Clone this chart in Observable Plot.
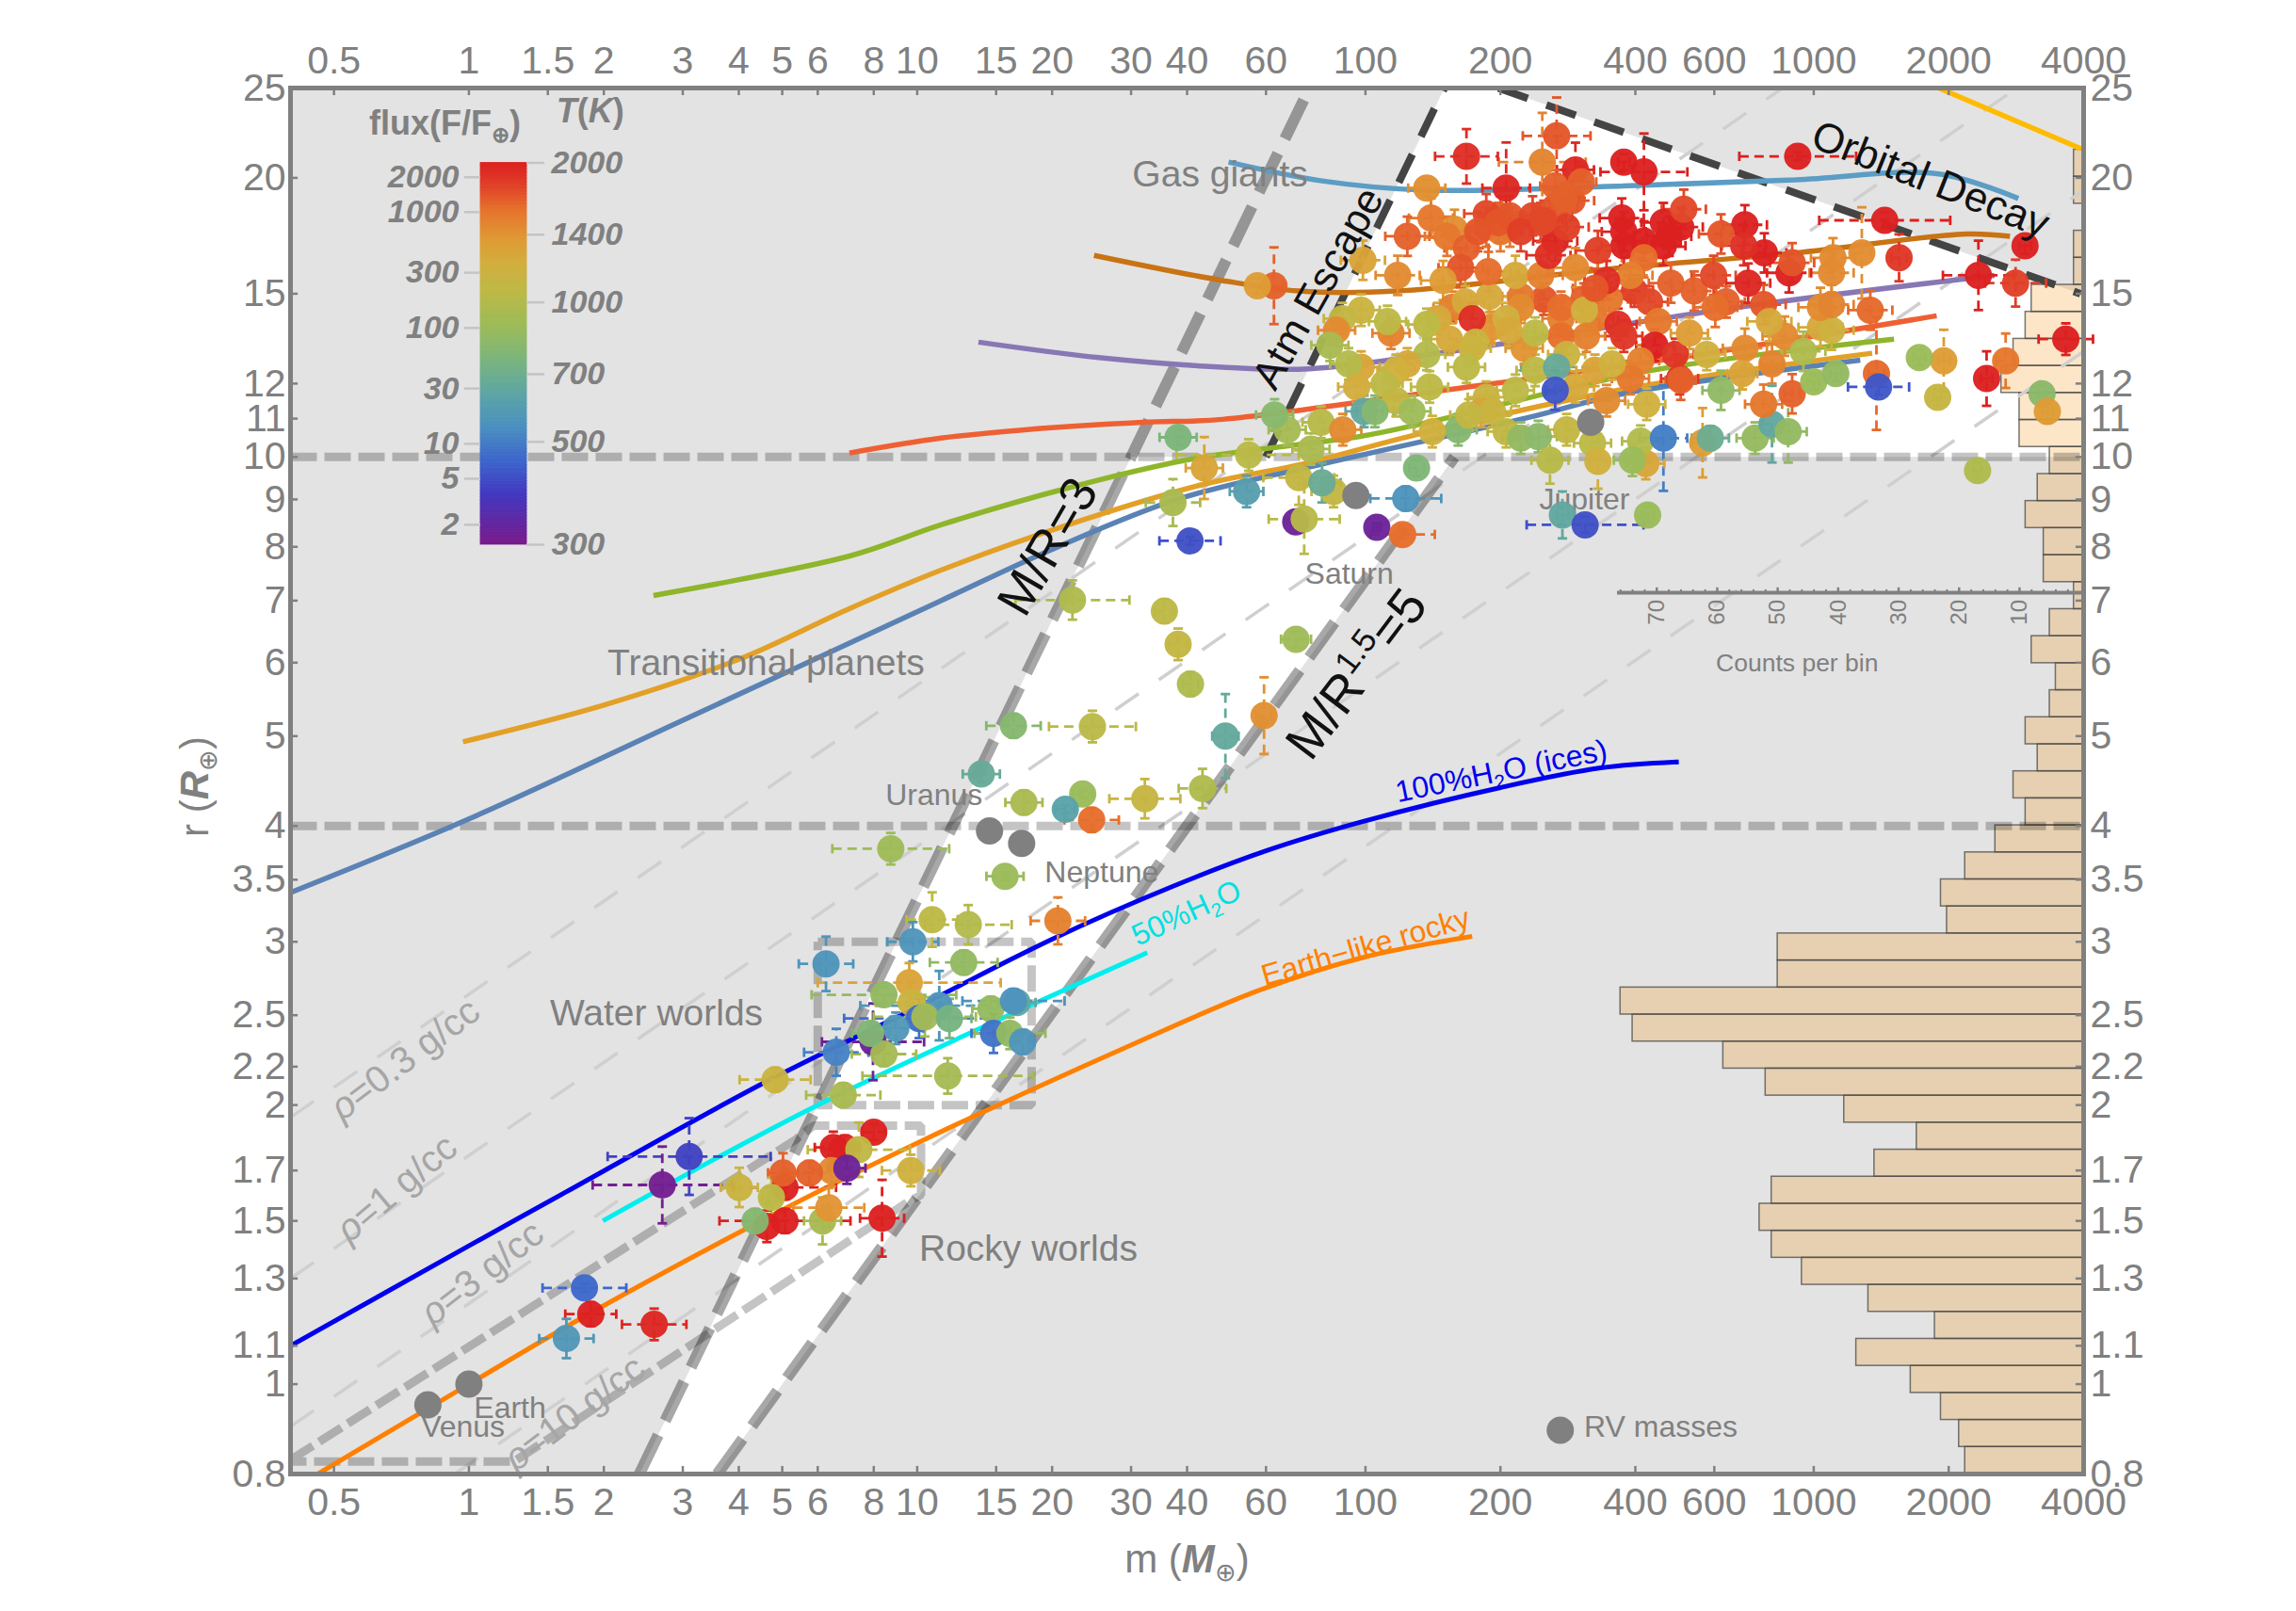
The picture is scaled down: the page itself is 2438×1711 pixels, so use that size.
<!DOCTYPE html>
<html><head><meta charset="utf-8">
<script src="https://cdn.jsdelivr.net/npm/d3@7"></script>
<script src="https://cdn.jsdelivr.net/npm/@observablehq/plot@0.6"></script>
<style>html,body{margin:0;padding:0;background:#fff}#wrap{position:relative;width:2438px;height:1711px;overflow:hidden}#wrap svg{position:absolute;left:0;top:0}</style>
</head><body><div id="wrap"></div>
<script>
const massTicks=[0.5,1,1.5,2,3,4,5,6,8,10,15,20,30,40,60,100,200,400,600,1000,2000,4000];
const radiusTicks=[0.8,1,1.1,1.3,1.5,1.7,2,2.2,2.5,3,3.5,4,5,6,7,8,9,10,11,12,15,20,25];
const tempTicks=[300,500,700,1000,1400,2000];
const fluxTicks=[2,5,10,30,100,300,1000,2000];
const countTicks=[10,20,30,40,50,60,70];
const countMinor=[2,4,6,8,12,14,16,18,22,24,26,28,32,34,36,38,42,44,46,48,52,54,56,58,62,64,66,68,72,74,76];
const countsPerBin=[19,20,23,28,37,24,35,46,51,53,51,34,27,39,52,59,74,76,50,50,22,23,19,14,9,11,7,9,5,4,8,5,1,6,6,9,7,5,10,10,13,11,9,8,1,1,0,1,1];

const rockAndWater=[
[6.26,2.84,560,1.15,1.07],[9.78,3.0,560,1.14,1.05],[10.8,3.17,1050,1.14,1.07],[13,3.13,1000,1.25,1.05],[20.6,3.16,1500,1.15,1.06],
[12.7,2.85,850,1.19,1.03],[9.6,2.71,1300,1.6,1.05],[8.43,2.63,850,1.45,1.02],[9.7,2.58,1150,1.2,1.05],[11.2,2.56,560,1.5,1.09],
[14.6,2.54,860,1.1,1.03],[16.7,2.58,650,1.1,1.02],[16.4,2.59,550,1.3,1.03],[10.1,2.48,470,1.47,1.05],[10.4,2.49,920,1.3,1.05],[11.8,2.48,740,1.12,1.05],
[8.96,2.42,570,1.15,1.04],[7.97,2.34,320,1.3,1.1],[8.43,2.27,930,1.18,1.03],[7.87,2.39,780,1.1,1.03],[14.8,2.39,480,1.12,1.05],[16.1,2.39,850,1.2,1.04],
[17.2,2.34,560,1.06,1.03],[6.6,2.28,510,1.18,1.06],[4.82,2.13,1150,1.2,1.03],[6.84,2.05,950,1.21,1.03],[11.7,2.15,930,1.55,1.045],
[8,1.87,1990,1.06,1.02],[6.9,1.8,1950,1.08,1.03],[6.5,1.8,2000,1.1,1.04],[7.41,1.79,1080,1.3,1.07],[3.1,1.76,400,1.52,1.1],[2.7,1.64,310,1.43,1.1],
[6.44,1.7,1450,1.1,1.04],[6.97,1.71,320,1.1,1.04],[5.07,1.63,2000,1.3,1.03],[5.02,1.69,1650,1.08,1.05],[5.75,1.69,1650,1.12,1.03],[4.01,1.63,1150,1.1,1.05],
[4.73,1.59,1050,1.05,1.05],[9.68,1.7,1200,1.16,1.04],[4.62,1.48,2000,1.05,1.04],[5.07,1.5,2000,1.4,1.03],[4.35,1.5,800,1.05,1.03],[6.15,1.5,950,1.1,1.06],
[6.35,1.55,1400,1.2,1.05],[8.35,1.51,2000,1.12,1.1],[1.81,1.27,460,1.24,1.01],[1.65,1.12,570,1.15,1.05],[1.87,1.19,2000,1.14,1.03],[2.59,1.16,1950,1.18,1.04]];

const subSaturns=[
[38.2,10.5,760,1.1,1.02],[43.7,9.73,1300,1.1,1.08],[54.9,10.05,1040,1.45,1.04],[37.2,8.93,950,1.15,1.06],[54.3,9.18,600,1.09,1.04],[40.6,8.12,420,1.17,1.01],
[84.9,9.18,1100,1.12,1.04],[71,9.5,1100,1.2,1.07],[80,9.38,680,1.1,1.05],[69.9,8.51,320,1.02,1.01],[73,8.57,1020,1.2,1.09],[106,8.4,320,1.02,1.01],[121,8.25,1600,1.18,1.01],
[123,9.02,550,1.2,1.03],[130,9.73,770,1.04,1.02],[22.2,7.01,980,1.34,1.05],[35.6,6.82,1050,1.05,1.03],[38.2,6.28,1100,1.05,1.04],[40.7,5.69,980,1.04,1.03],
[70,6.36,900,1.08,1.02],[59.4,5.26,1420,1.04,1.1],[48.7,5,660,1.07,1.11],[16.4,5.13,800,1.15,1.03],[24.6,5.12,1040,1.25,1.04],[13.9,4.55,670,1.1,1.02],
[17.3,4.24,960,1.1,1.03],[23.4,4.33,880,1.05,1.01],[21.4,4.17,620,1.05,1.01],[24.5,4.06,1600,1.15,1.03],[32.2,4.28,1120,1.2,1.05],[43.3,4.39,980,1.13,1.05],[15.7,3.53,880,1.1,1.01],[8.73,3.78,900,1.35,1.04]];

const hotGiants=[
[265,11.8,430,1.05,1.05],[168,21.1,1900,1.175,1.07],[267,22.2,1700,1.19,1.1],[248,20.8,1480,1.25,1.13],[294,20.4,1950,1.1,1.07],[377,20.8,2000,1.03,1.02],[418,20.3,2000,1.25,1.1],[921,21.1,2000,1.35,1.01],
[137,19.5,1420,1.1,1.02],[206,19.5,1950,1.13,1.12],[265,19.6,1650,1.08,1.04],[303,19.8,1650,1.08,1.04],[277,19,1650,1.08,1.04],[1440,18,2000,1.4,1.02],
[2960,16.9,2000,1.03,1.02],[2330,15.7,2000,1.2,1.09],[2820,15.4,1800,1.17,1.06],[1550,16.4,1850,1.04,1.06],[1280,16.6,1430,1.05,1.12],[3650,13.4,2000,1.15,1.04],
[2680,12.7,1550,1.05,1.07],[2430,12.15,2000,1.03,1.07],[1950,12.7,1350,1.03,1.08],[1720,12.8,880,1.03,1.02],[1890,11.6,1120,1.02,1.02],[3230,11.7,820,1.02,1.02],[3320,11.2,1350,1.03,1.03],
[1380,12.3,1620,1.04,1.15],[1395,11.9,430,1.17,1.02],[2320,9.67,980,1.02,1.02],[426,8.66,880,1.03,1.02],[275,8.66,650,1.03,1.06],[309,8.45,420,1.35,1.02],
[565,10.36,1350,1.06,1.09],[462,10.48,500,1.13,1.14],[588,10.48,690,1.1,1.03],[740,10.48,860,1.1,1.04],[807,10.85,650,1.06,1.1],[877,10.65,850,1.1,1.08],[773,11.4,1550,1.1,1.05],
[895,11.7,1650,1.04,1.05],[1000,12.05,880,1.03,1.02],[1120,12.3,850,1.03,1.02],[693,12.3,1300,1.08,1.04],[621,11.8,840,1.1,1.05],[505,12.1,1650,1.08,1.05],[807,12.6,1480,1.06,1.05]];

const warmGiants=[
[702,13.1,1450],[861,13.5,1450],[948,13,980],[1035,13.8,1250],[1096,13.7,1180],[1337,14.4,1620],[1035,14.5,1450],[1096,14.6,1480],[773,14.6,1700],[796,14,1250],
[603,14.5,1600],[541,15.1,1650],[598,15.7,1750],[714,15.4,1950],[881,15.8,2000],[895,16.2,1700],[776,16.6,2000],[1096,15.8,1450],[1104,16.4,1450],[702,17.8,2000],
[621,17.4,1700],[505,17.7,2000],[462,17.9,2000],[513,18.5,1750],[373,18.1,2000],[377,17.5,2000],[418,17.1,2000],[476,17.3,2000],[377,16.9,2000],[462,16.9,2000],[698,16.9,1900],
[330,16.7,1800],[265,17.1,1950],[246,17.9,1750],[265,18.6,1700],[289,18.9,1700],[186,17.7,1600],[200,18.2,1650],[210,17.7,1550],[200,17.5,1550],[140,18.1,1550],[124,17.3,1650],
[158,17.6,1420],[152,17.3,1550],[168,16.8,1650],[163,16,1700],[188,15.85,1600],[216,15.7,1250],[246,15.7,1500],[256,16.5,1900],[294,16,1450],[418,16.4,1600],[390,15.7,1500],
[345,15.5,1900],[325,15.2,1700],[480,15.4,1650],[118,15.7,1450],[98.7,16.3,1300],[149,15.5,1350],[62.5,15.3,1650,1.05,1.1],[57.4,15.3,1350,1.05,1.02],
[186,18.3,1750],[210,18.2,1700],[236,18.2,1750],[198,17.9,1700],[222,17.5,1800],[178,17.5,1700],[281,17.7,1800],[250,18,1750]];

const coolerGiants=[
[250,14.8,1700],[222,14.9,1550],[307,14.8,1650],[398,15.1,1800],[430,14.7,1750],[638,14.7,1650],[325,14.1,1550],[273,14.1,1500],[97.8,14.4,1150],[156,14.5,1500],[189,14.9,1250],[167,14.7,1250],[222,14.5,1450],
[273,14.5,1600],[308,14.4,1200],[350,14.8,1550],[450,14,1550],[366,13.9,1900],[311,13.5,1500],[191,13.8,1400],[173,14.1,1900],[145,14.1,1250],[206,14.1,1200],
[114,13.6,1500],[112,14,1050],[137,13.9,1050],[88.8,14.1,1100],[86.2,13.7,1450],[83.3,13.2,950],[154,13.4,1250],[173,13.1,1200],[226,13.1,1400],[273,13.5,1600],[377,13.5,1850],
[442,13.2,2000],[491,12.9,1850],[411,12.7,1500],[528,13.6,1350],[577,12.9,1200],[502,12.15,1850],[390,12.15,1550],[281,12.9,1150],[239,13.6,1050],[209,13.7,1250],[176,13.3,1150],
[345,11.5,1450],[424,11.4,1200],[294,11.9,1250],[325,12.4,1300],[355,12.6,1200],[239,12.4,1050],[267,12.5,670,1.2,1.02],[186,11.6,1150],[181,11.2,1300],[216,11.8,1050],
[168,12.5,1050],[137,12.9,1000],[139,11.9,1050],[124,12.6,1250],[117,12.4,1200],[97.8,12.5,1280],[91.7,12.6,1000],[95.6,11.9,1220],[110,12,1050],[117,11.5,1100],
[99.3,11.2,650],[105,11.2,800],[127,11.2,900],[161,10.7,800],[141,10.65,1200],[192,11.2,1150],[170,11.1,1100],[206,10.65,1080],[222,10.48,850],[243,10.52,820],[281,10.7,1100],
[258,9.92,1020,1.1,1.06],[321,10.35,1050],[330,9.89,1200,1.05,1.07],[422,9.84,1280],[411,10.4,1000],[394,9.92,880],[79.6,10.9,1020],[66.9,10.7,930],[62.7,11.1,810],[89,10.7,1450],[75.6,10.2,960]];

const solarSystem=[[1,1],[0.81,0.95],[95.2,9.09],[318,10.9],[14.5,3.95],[17.1,3.83],[272,0.892]];

// mass–radius curves, [mass, radius]
const waterCurve=[[0.4,1.1],[1,1.41],[1.64,1.61],[4.52,2.11],[10,2.55],[20,3.02],[37,3.44],[60,3.76],[98,4.04],[200,4.4],[335,4.62],[500,4.69]];
const halfWaterCurve=[[1.99,1.5],[6,2.0],[32.6,2.92]];
const rockyCurve=[[0.46,0.8],[1,1],[1.82,1.185],[4.98,1.54],[10,1.82],[29.9,2.32],[58,2.66],[100,2.89],[173,3.04]];
const gasSteel=[[0.4,3.39],[1,4.07],[3,5.2],[11.3,7],[20,7.95],[38,9],[79,9.81],[231,11.03],[375,11.7],[1270,12.72]];
const gasAmber=[[0.97,4.93],[2,5.4],[4,6.05],[7,6.85],[11.3,7.55],[21.7,8.45],[43,9.33],[72.7,9.83],[133,10.6],[375,11.83],[1350,12.94]];
const gasOlive=[[2.58,7.09],[7.07,7.82],[11.3,8.45],[21.7,9.26],[41,9.95],[98,10.53],[138,10.9],[435,12.4],[1510,13.4]];
const gasCoral=[[7.06,10.1],[11.3,10.48],[17.4,10.7],[31.9,10.9],[48,10.98],[155,11.83],[500,12.8],[1880,14.2]];
const gasViolet=[[13.7,13.3],[25.4,12.8],[48,12.5],[75,12.45],[155,13],[675,14.5],[2530,15.7]];
const gasBrown=[[24.8,16.5],[48,15.5],[71,15.1],[117,15.1],[375,16],[910,16.6],[2190,17.4],[2740,17.3]];
const gasSky=[[49.5,20.8],[80,19.85],[135,19.4],[375,19.6],[910,19.9],[1900,20.2],[2860,19]];
const gasGold=[[1900,25],[3950,21.5]];

// guide lines
const rho03=[[0.4,1.94],[852,25]], rho1=[[0.4,1.3],[2841,25]], rho3=[[0.4,0.9],[4000,19.4]], rho10=[[0.93,0.8],[4000,13]];
const mOverR3=[[2.4,0.8],[75,25]], mOverR15=[[3.58,0.8],[158,10]], atmEscape=[[60,10],[150,25]], orbitalDecay=[[198,25],[3933,15]];
const waterBox=[[6,3],[18,3],[18,2],[6,2],[6,3]];
const rockyBox=[[0.4,0.8286],[5.35,1.835],[5.87,1.9],[10.2,1.9],[10.2,1.6],[9.5,1.57],[1.26,0.825],[0.4,0.825]];
const horizon10=[[0.4,10],[4000,10]], horizon4=[[0.4,4],[4000,4]];
const whiteZone=[[2.4,0.8],[30,10],[60,10],[150,25],[198,25],[3933,15],[4000,15],[4000,10],[158,10],[3.58,0.8]];

const grayLabels=[["Gas giants",47.4,20,39],["Transitional planets",4.6,5.95,39],["Water worlds",2.62,2.49,39],["Rocky worlds",17.7,1.39,39],
["Uranus",10.9,4.29,32],["Neptune",25.8,3.54,32],["Saturn",92,7.43,32],["Jupiter",308,8.92,32],["Earth",1.235,0.935,32],["Venus",0.97,0.892,32],["RV masses",456,0.892,32],["Counts per bin",918,5.95,26.5]];
const rhoLabels=[["*ρ*=0.3 g/cc",0.72,2.24,-37],["*ρ*=1 g/cc",0.69,1.626,-40],["*ρ*=3 g/cc",1.07,1.317,-38],["*ρ*=10 g/cc",1.72,0.93,-37]];
const blackLabels=[["M/R=3",19.6,8,-60,53],["M/R^{1.5}=5",95.7,5.83,-53,54],["Atm Escape",78.5,15.2,-60.6,44],["Orbital Decay",1821,19.9,21.6,44]];

const rainbow=d3.scaleLinear()
 .domain([0,.132,.22,.308,.396,.485,.573,.66,.73,.8,.88,.94,1])
 .range(["#7b1a8a","#4238c0","#3d66cc","#4a90c0","#5ea5a5","#7ab57c","#9cbb58","#bcb946","#d0b03e","#e09a34","#e6702c","#e04028","#dc2020"]);
const colorScale={type:"log",domain:[300,2000],interpolate:t=>rainbow(t)};

const gray="#808080", font="'Liberation Sans',Arial,sans-serif";
const countToMass=c=>4000*Math.pow(10,-(c+0.6)*6.42/476);
const binEdge=k=>0.8*Math.pow(10,k*0.02915);
const rows=(list,fm,fr)=>list.map(d=>({m:d[0],r:d[1],T:d[2],fm:d[3]??fm,fr:d[4]??fr}));
const planets=[...rows(coolerGiants,1.1,1.04),...rows(warmGiants,1.12,1.05),...rows(hotGiants),...rows(subSaturns),...rows(rockAndWater)];
const vbar={draw(c,s){const h=Math.sqrt(s/Math.PI);c.moveTo(0,-h);c.lineTo(0,h);}};
const hbar={draw(c,s){const h=Math.sqrt(s/Math.PI);c.moveTo(-h,0);c.lineTo(h,0);}};
const butt={strokeLinecap:"butt",strokeLinejoin:"miter"};
const line=(data,o)=>Plot.line(data,{x:d=>d[0],y:d=>d[1],clip:true,...o});
const curve=(data,stroke,w=5.5)=>line(data,{stroke,strokeWidth:w,curve:"catmull-rom",...butt});
const thinRho={stroke:"#cfcfcf",strokeWidth:3.5,strokeDasharray:"30,26",...butt};
const pale={stroke:"#000",strokeOpacity:.23,strokeWidth:9,strokeDasharray:"28,8",...butt};
const thick={stroke:"#000",strokeOpacity:.34,strokeWidth:12,strokeDasharray:"46,17",...butt};
const dark={stroke:"#444",strokeWidth:8,strokeDasharray:"33,21",...butt};
const labels=(list,o)=>Plot.text(list,{text:d=>d[0],x:d=>d[1],y:d=>d[2],...o});
const histRows=countsPerBin.map((c,k)=>({c,k})).filter(d=>d.c>0);
const tickText={text:d=>String(d),fontSize:41,fill:gray};
const errStyle={stroke:d=>d.T,strokeWidth:2.8,...butt};

const main=Plot.plot({
 width:2438,height:1711,marginLeft:308,marginRight:226,marginTop:93,marginBottom:146,
 style:{fontFamily:font,background:"#fff",overflow:"visible"},
 x:{type:"log",domain:[0.4,4000],axis:null},
 y:{type:"log",domain:[0.8,25],axis:null},
 color:colorScale,
 marks:[
  Plot.frame({fill:"#e3e3e3"}),
  Plot.line(whiteZone,{x:d=>d[0],y:d=>d[1],fill:"#fff",stroke:"none"}),
  Plot.rect(histRows,{x1:4000,x2:d=>countToMass(d.c),y1:d=>binEdge(d.k),y2:d=>binEdge(d.k+1),fill:"#f08c00",fillOpacity:.22,stroke:"#4a4a4a",strokeOpacity:.75,strokeWidth:1.5}),
  line(rho03,thinRho),line(rho1,thinRho),line(rho3,thinRho),line(rho10,thinRho),
  line(horizon10,pale),line(horizon4,pale),line(waterBox,pale),line(rockyBox,pale),
  line(mOverR3,thick),line(mOverR15,thick),line(atmEscape,dark),line(orbitalDecay,dark),
  curve(gasGold,"#ffbb00"),curve(gasSky,"#5b9dc5"),curve(gasBrown,"#c87314"),curve(gasViolet,"#8877b5"),curve(gasCoral,"#ee6033"),curve(gasOlive,"#8fb52a"),curve(gasAmber,"#e3a027"),curve(gasSteel,"#5b82b4"),
  curve(waterCurve,"#0000ee",5),curve(rockyCurve,"#ff8000",5),curve(halfWaterCurve,"#00eeee",5),
  Plot.ruleY([7.14],{x1:4000,x2:countToMass(76.5),stroke:gray,strokeWidth:4}),
  Plot.ruleX(countTicks,{x:countToMass,y1:7.14,y2:7.14*1.012,stroke:gray,strokeWidth:2.5}),
  Plot.ruleX(countMinor,{x:countToMass,y1:7.14,y2:7.14*1.007,stroke:gray,strokeWidth:2}),
  Plot.text(countTicks,{x:countToMass,y:6.8,text:d=>String(d),rotate:-90,fontSize:24,fill:gray}),
  labels(grayLabels,{fill:gray,fontSize:d=>d[3],dy:-3}),
  labels(rhoLabels,{fill:"#a6a6a6",fontSize:40,rotate:d=>d[3]}),
  Plot.link(planets,{x1:d=>d.m/d.fm,x2:d=>d.m*d.fm,y1:d=>d.r,y2:d=>d.r,strokeDasharray:"10,6",...errStyle}),
  Plot.link(planets,{x1:d=>d.m,x2:d=>d.m,y1:d=>d.r/d.fr,y2:d=>d.r*d.fr,strokeDasharray:"10,6",...errStyle}),
  Plot.dot(planets,{x:d=>d.m/d.fm,y:d=>d.r,symbol:vbar,r:5,fill:"none",...errStyle}),
  Plot.dot(planets,{x:d=>d.m*d.fm,y:d=>d.r,symbol:vbar,r:5,fill:"none",...errStyle}),
  Plot.dot(planets,{x:d=>d.m,y:d=>d.r/d.fr,symbol:hbar,r:5,fill:"none",...errStyle}),
  Plot.dot(planets,{x:d=>d.m,y:d=>d.r*d.fr,symbol:hbar,r:5,fill:"none",...errStyle}),
  Plot.dot(planets,{x:d=>d.m,y:d=>d.r,r:14.5,fill:d=>d.T,fillOpacity:.96,stroke:"none"}),
  Plot.dot(solarSystem,{x:d=>d[0],y:d=>d[1],r:14.5,fill:"#808080",stroke:"none"}),
  labels(blackLabels,{fill:"#111",rotate:d=>d[3],fontSize:d=>d[4]}),
  Plot.text(["100%H_{2}O (ices)"],{x:201,y:4.58,rotate:-11.5,fontSize:32,fill:"#0000ee"}),
  Plot.text(["50%H_{2}O"],{x:39.9,y:3.22,rotate:-24.7,fontSize:32,fill:"#00e0e0"}),
  Plot.text(["Earth\u2212like rocky"],{x:100,y:2.96,rotate:-16,fontSize:32,fill:"#ff8000"}),
  Plot.text(["m (~M~_{⊕})"],{x:40,y:0.647,fontSize:42,fill:gray}),
  Plot.text(["r (~R~_{⊕})"],{x:0.245,y:4.41,rotate:-90,fontSize:42,fill:gray}),
  Plot.ruleX(massTicks,{x:d=>d,y1:0.8,y2:0.8*1.019,stroke:gray,strokeWidth:2.5}),
  Plot.ruleX(massTicks,{x:d=>d,y1:25,y2:25/1.019,stroke:gray,strokeWidth:2.5}),
  Plot.ruleY(radiusTicks,{y:d=>d,x1:0.4,x2:0.4*1.04,stroke:gray,strokeWidth:2.5}),
  Plot.ruleY(radiusTicks,{y:d=>d,x1:4000,x2:4000/1.04,stroke:gray,strokeWidth:2.5}),
  Plot.text(massTicks,{x:d=>d,y:0.8,lineAnchor:"top",dy:14,...tickText}),
  Plot.text(massTicks,{x:d=>d,y:25,lineAnchor:"bottom",dy:-16,...tickText}),
  Plot.text(radiusTicks,{y:d=>d,x:0.4,textAnchor:"end",dx:-5,...tickText}),
  Plot.text(radiusTicks,{y:d=>d,x:4000,textAnchor:"start",dx:7,...tickText}),
  Plot.frame({stroke:gray,strokeWidth:5})
 ]
});

// colour bar, on its own scales
const tempSteps=d3.range(0,120).map(i=>[300*Math.pow(2000/300,i/120),300*Math.pow(2000/300,(i+1)/120)]);
const fluxToTemp=f=>278.5*Math.pow(f,0.25);
const legend=Plot.plot({
 width:2438,height:1711,margin:0,
 style:{fontFamily:font,background:"transparent",overflow:"visible"},
 x:{domain:[0,1],range:[510,559],axis:null},
 y:{type:"log",domain:[300,2000],range:[578,172.5],axis:null},
 color:colorScale,
 marks:[
  Plot.rect(tempSteps,{x1:0,x2:1,y1:d=>d[0],y2:d=>d[1],fill:d=>Math.sqrt(d[0]*d[1]),stroke:d=>Math.sqrt(d[0]*d[1]),strokeWidth:.8}),
  Plot.ruleY(tempTicks,{y:d=>d,x1:1,x2:1.39,stroke:"#c4c4c4",strokeWidth:2.5}),
  Plot.ruleY(fluxTicks,{y:fluxToTemp,x1:-.35,x2:0,stroke:"#c4c4c4",strokeWidth:2.5}),
  Plot.text(tempTicks,{y:d=>d,x:1.53,text:d=>String(d),textAnchor:"start",fontSize:34,fontWeight:"bold",fontStyle:"italic",fill:gray}),
  Plot.text(fluxTicks,{y:fluxToTemp,x:-.47,text:d=>String(d),textAnchor:"end",fontSize:34,fontWeight:"bold",fontStyle:"italic",fill:gray}),
  Plot.text(["flux(F/F_{⊕})"],{x:-.776,y:2430,fontSize:36,fontWeight:"bold",fill:gray}),
  Plot.text(["*T*(*K*)"],{x:2.37,y:2583,fontSize:36,fontWeight:"bold",fill:gray})
 ]
});

// sub/superscript and italic runs inside text labels
function enrich(svg){
 d3.select(svg).selectAll("text").each(function(){
  const s=this.textContent;
  if(!/[_^]\{|\*|~/.test(s))return;
  const parts=s.match(/_\{[^}]*\}|\^\{[^}]*\}|\*[^*]*\*|~[^~]*~|[^_^*~]+/g);
  this.textContent="";
  let back=null;
  for(const p of parts){
   const t=document.createElementNS("http://www.w3.org/2000/svg","tspan");
   if(p[0]==="_"){t.textContent=p.slice(2,-1);t.setAttribute("font-size","65%");t.setAttribute("dy",".35em");back="-.2275em";}
   else if(p[0]==="^"){t.textContent=p.slice(2,-1);t.setAttribute("font-size","65%");t.setAttribute("dy","-.6em");back=".39em";}
   else{
    if(p[0]==="*"){t.textContent=p.slice(1,-1);t.setAttribute("font-style","italic");}
    else if(p[0]==="~"){t.textContent=p.slice(1,-1);t.setAttribute("font-style","italic");t.setAttribute("font-weight","bold");}
    else t.textContent=p;
    if(back){t.setAttribute("dy",back);back=null;}
   }
   this.appendChild(t);
  }
 });
}
enrich(main);enrich(legend);
const wrap=document.getElementById("wrap");
wrap.append(main,legend);
</script></body></html>
